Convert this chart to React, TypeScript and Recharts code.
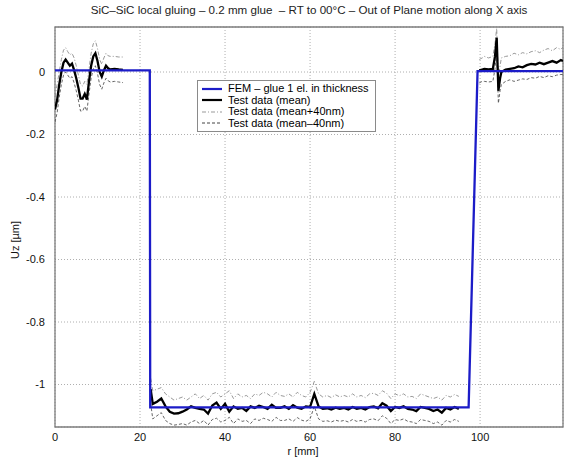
import React from "react";
import {
  LineChart,
  Line,
  XAxis,
  YAxis,
  CartesianGrid,
  Legend,
  ReferenceArea,
  Label,
} from "recharts";

// ---- FEM model (glue modelled with 1 element in thickness) ----
const femR = [0, 22.3, 22.4, 97.3, 99.4, 119.5];
const femU = [0.005, 0.005, -1.073, -1.073, 0.003, 0.003];

// ---- Test data, left segment ----
const rLeft = [0, 0.5, 1, 1.5, 2, 2.5, 3, 3.5, 4, 4.5, 5, 5.5, 6, 6.5, 7, 7.5, 8, 8.5, 9, 9.5, 10, 10.5, 11, 11.5, 12, 12.5, 13, 14, 15, 16];
const meanLeft = [-0.12, -0.09, -0.04, 0.0, 0.03, 0.04, 0.03, 0.02, 0.027, 0.006, -0.02, -0.05, -0.085, -0.085, -0.07, -0.088, -0.03, 0.02, 0.05, 0.06, 0.035, 0.0, -0.015, 0.005, 0.02, 0.012, 0.008, 0.01, 0.008, 0.007];
const upperLeft = [-0.08, -0.04, 0.0, 0.04, 0.07, 0.078, 0.065, 0.055, 0.06, 0.045, 0.02, -0.01, -0.04, -0.045, -0.03, -0.04, 0.01, 0.06, 0.09, 0.1, 0.075, 0.04, 0.025, 0.045, 0.06, 0.052, 0.05, 0.05, 0.048, 0.048];
const lowerLeft = [-0.16, -0.13, -0.08, -0.04, -0.01, 0.0, -0.01, -0.02, -0.015, -0.035, -0.06, -0.09, -0.125, -0.125, -0.11, -0.125, -0.07, -0.02, 0.01, 0.02, -0.005, -0.04, -0.055, -0.035, -0.02, -0.028, -0.032, -0.03, -0.032, -0.034];

// ---- Test data, central segment (glued zone) ----
const rMid = [22.5, 23, 24, 25, 26, 27, 28, 29, 30, 31, 32, 33, 34, 35, 36, 37, 38, 39, 40, 41, 42, 43, 44, 45, 46, 47, 48, 49, 50, 51, 52, 53, 54, 55, 56, 57, 58, 59, 60, 61, 62, 63, 64, 65, 66, 67, 68, 69, 70, 71, 72, 73, 74, 75, 76, 77, 78, 79, 80, 81, 82, 83, 84, 85, 86, 87, 88, 89, 90, 91, 92, 93, 94, 95];
const meanMid = [-1.015, -1.062, -1.055, -1.045, -1.07, -1.087, -1.093, -1.092, -1.087, -1.08, -1.07, -1.075, -1.078, -1.08, -1.093, -1.067, -1.058, -1.078, -1.062, -1.087, -1.07, -1.078, -1.075, -1.085, -1.07, -1.075, -1.068, -1.072, -1.078, -1.065, -1.075, -1.075, -1.07, -1.078, -1.066, -1.074, -1.078, -1.07, -1.072, -1.03, -1.07, -1.078, -1.076, -1.08, -1.074, -1.078, -1.075, -1.08, -1.072, -1.078, -1.075, -1.08, -1.072, -1.07, -1.076, -1.06, -1.068, -1.085, -1.072, -1.075, -1.07, -1.078, -1.08, -1.085, -1.072, -1.075, -1.078, -1.085, -1.08, -1.09, -1.075, -1.08, -1.072, -1.078];
const upperMid = [-0.98, -1.02, -1.015, -1.01, -1.03, -1.04, -1.05, -1.045, -1.04, -1.05, -1.04, -1.03, -1.045, -1.035, -1.05, -1.03, -1.025, -1.04, -1.03, -1.02, -1.045, -1.03, -1.04, -1.035, -1.045, -1.03, -1.035, -1.025, -1.03, -1.04, -1.025, -1.035, -1.038, -1.03, -1.04, -1.025, -1.035, -1.04, -1.025, -0.99, -1.03, -1.04, -1.035, -1.042, -1.033, -1.04, -1.035, -1.04, -1.03, -1.04, -1.035, -1.042, -1.03, -1.028, -1.035, -1.02, -1.028, -1.045, -1.03, -1.036, -1.03, -1.04, -1.038, -1.045, -1.03, -1.035, -1.04, -1.045, -1.04, -1.05, -1.035, -1.04, -1.032, -1.038];
const lowerMid = [-1.06, -1.11, -1.1, -1.09, -1.115, -1.125, -1.13, -1.128, -1.125, -1.13, -1.12, -1.115, -1.125, -1.115, -1.13, -1.112, -1.108, -1.12, -1.115, -1.105, -1.125, -1.11, -1.118, -1.115, -1.125, -1.11, -1.115, -1.108, -1.112, -1.118, -1.105, -1.115, -1.115, -1.11, -1.118, -1.106, -1.114, -1.118, -1.11, -1.07, -1.11, -1.118, -1.116, -1.12, -1.114, -1.118, -1.115, -1.12, -1.112, -1.118, -1.115, -1.12, -1.112, -1.11, -1.116, -1.1, -1.108, -1.125, -1.112, -1.115, -1.11, -1.118, -1.12, -1.125, -1.112, -1.115, -1.118, -1.125, -1.12, -1.13, -1.115, -1.12, -1.112, -1.118];

// ---- Test data, right segment ----
const rRight = [99.8, 100.5, 101, 102, 103, 103.5, 103.9, 104.3, 104.7, 105, 106, 107, 108, 109, 110, 111, 112, 113, 114, 115, 116, 117, 118, 119, 119.5];
const meanRight = [0.005, 0.008, 0.01, 0.008, 0.01, 0.05, 0.11, -0.06, -0.02, 0.0, 0.008, 0.01, 0.012, 0.018, 0.015, 0.022, 0.026, 0.024, 0.03, 0.025, 0.03, 0.035, 0.03, 0.038, 0.035];
const upperRight = [0.04, 0.045, 0.05, 0.045, 0.05, 0.09, 0.14, -0.02, 0.02, 0.045, 0.05, 0.052, 0.06, 0.055, 0.062, 0.058, 0.065, 0.068, 0.062, 0.07, 0.075, 0.068, 0.078, 0.072, 0.08];
const lowerRight = [-0.035, -0.03, -0.03, -0.032, -0.03, 0.01, 0.07, -0.1, -0.06, -0.04, -0.03, -0.025, -0.03, -0.026, -0.022, -0.024, -0.018, -0.02, -0.014, -0.018, -0.012, -0.015, -0.01, -0.008, -0.008];

// ---- Axes ----
const xTicks = [0, 20, 40, 60, 80, 100];
const yTicks = [-1, -0.8, -0.6, -0.4, -0.2, 0];
const xDomain: [number, number] = [0, 119.5];
const yDomain: [number, number] = [-1.136, 0.144];

const TITLE = "SiC\u2013SiC local gluing \u2013 0.2 mm glue  \u2013 RT to 00\u00b0C \u2013 Out of Plane motion along X axis";
const FONT = "'Liberation Sans', Arial, Helvetica, sans-serif";

const FEM_NAME = "FEM \u2013 glue 1 el. in thickness";
const MEAN_NAME = "Test data (mean)";
const UPPER_NAME = "Test data (mean+40nm)";
const LOWER_NAME = "Test data (mean\u201340nm)";
const legendOrder = [FEM_NAME, MEAN_NAME, UPPER_NAME, LOWER_NAME];

type Pt = { r: number; u: number | null };

function toPoints(r: number[], u: number[]): Pt[] {
  return r.map((x, i) => ({ r: x, u: u[i] }));
}

// Join measured segments with a null point so the line breaks between them
function joinSegments(...segs: Pt[][]): Pt[] {
  const out: Pt[] = [];
  segs.forEach((s, i) => {
    if (i > 0) out.push({ r: (out[out.length - 1].r + s[0].r) / 2, u: null });
    out.push(...s);
  });
  return out;
}

const femData = toPoints(femR, femU);
const meanData = joinSegments(toPoints(rLeft, meanLeft), toPoints(rMid, meanMid), toPoints(rRight, meanRight));
const upperData = joinSegments(toPoints(rLeft, upperLeft), toPoints(rMid, upperMid), toPoints(rRight, upperRight));
const lowerData = joinSegments(toPoints(rLeft, lowerLeft), toPoints(rMid, lowerMid), toPoints(rRight, lowerRight));

const BLUE = "#1c1cc8";

const legendStyles: Record<string, { color: string; width: number; dash?: string }> = {
  [FEM_NAME]: { color: BLUE, width: 2.2 },
  [MEAN_NAME]: { color: "#000", width: 2.2 },
  [UPPER_NAME]: { color: "#999", width: 1, dash: "4 2 1 2" },
  [LOWER_NAME]: { color: "#444", width: 1, dash: "3 2" },
};

function LegendBox(props: any) {
  const items = [...((props.payload || []) as any[])].sort(
    (a, b) => legendOrder.indexOf(a.value) - legendOrder.indexOf(b.value)
  );
  return (
    <div
      style={{
        background: "#fff",
        border: "1px solid #8a8a8a",
        padding: "2px 6px 2px 3px",
        fontFamily: FONT,
        fontSize: 11,
        lineHeight: "11.5px",
        color: "#000",
        display: "inline-block",
      }}
    >
      {items.map((it) => {
        const st = legendStyles[it.value] || { color: "#000", width: 1 };
        return (
          <div key={it.value} style={{ display: "flex", alignItems: "center", whiteSpace: "nowrap" }}>
            <svg width={22} height={10} style={{ marginRight: 5 }}>
              <line x1={1} y1={5} x2={21} y2={5} stroke={st.color} strokeWidth={st.width} strokeDasharray={st.dash} />
            </svg>
            <span>{it.value}</span>
          </div>
        );
      })}
    </div>
  );
}

function fmtY(v: number) {
  if (v === 0) return "0";
  if (v === -1) return "-1";
  return v.toFixed(1);
}

export default function App() {
  return (
    <div style={{ position: "absolute", left: 0, top: 0, width: 565, height: 459, background: "#fff" }}>
      <div
        style={{
          position: "absolute",
          left: 55,
          width: 508,
          top: 3,
          textAlign: "center",
          fontFamily: FONT,
          fontSize: 11.6,
          color: "#222",
          whiteSpace: "pre",
        }}
      >
        {TITLE}
      </div>
      <LineChart width={565} height={459} margin={{ top: 27, right: 2, bottom: 0, left: 0 }}>
        <CartesianGrid stroke="#9a9a9a" strokeDasharray="1 2" strokeWidth={0.8} />
        <XAxis
          type="number"
          dataKey="r"
          domain={xDomain}
          ticks={xTicks}
          allowDataOverflow
          height={32}
          axisLine={false}
          tickLine={false}
          tick={{ fontFamily: FONT, fontSize: 11, fill: "#111" }}
          tickMargin={0}
        >
          <Label
            content={(p: any) => {
              const vb = p.viewBox;
              return (
                <text x={vb.x + vb.width / 2 - 6} y={vb.y + 28} textAnchor="middle" fontFamily={FONT} fontSize={11} fill="#111">
                  r [mm]
                </text>
              );
            }}
          />
        </XAxis>
        <YAxis
          type="number"
          domain={yDomain}
          ticks={yTicks}
          allowDataOverflow
          width={55}
          axisLine={false}
          tickLine={false}
          tickFormatter={fmtY}
          tick={{ fontFamily: FONT, fontSize: 11, fill: "#111" }}
          tickMargin={4}
        >
          <Label
            content={(p: any) => {
              const vb = p.viewBox;
              const cx = vb.x + 19;
              const cy = vb.y + vb.height / 2 + 13;
              return (
                <text x={cx} y={cy} transform={`rotate(-90 ${cx} ${cy})`} textAnchor="middle" fontFamily={FONT} fontSize={11} fill="#111">
                  Uz [µm]
                </text>
              );
            }}
          />
        </YAxis>
        <ReferenceArea
          x1={xDomain[0]}
          x2={xDomain[1]}
          y1={yDomain[0]}
          y2={yDomain[1]}
          fill="none"
          stroke="#7d7d7d"
          strokeWidth={1.3}
          ifOverflow="visible"
        />
        <Line
          data={upperData}
          dataKey="u"
          name={UPPER_NAME}
          stroke="#8c8c8c"
          strokeWidth={0.9}
          strokeDasharray="4 2 1 2"
          dot={false}
          type="linear"
          isAnimationActive={false}
        />
        <Line
          data={lowerData}
          dataKey="u"
          name={LOWER_NAME}
          stroke="#555"
          strokeWidth={0.9}
          strokeDasharray="3 2"
          dot={false}
          type="linear"
          isAnimationActive={false}
        />
        <Line
          data={meanData}
          dataKey="u"
          name={MEAN_NAME}
          stroke="#000"
          strokeWidth={2.3}
          dot={false}
          type="linear"
          isAnimationActive={false}
        />
        <Line
          data={femData}
          dataKey="u"
          name={FEM_NAME}
          stroke={BLUE}
          strokeWidth={2.3}
          dot={false}
          type="linear"
          isAnimationActive={false}
        />
        <Legend
          layout="horizontal"
          verticalAlign="middle"
          align="center"
          wrapperStyle={{ position: "absolute", left: 197, top: 80, width: "auto", height: "auto" }}
          content={(p: any) => <LegendBox payload={p.payload} />}
        />
      </LineChart>
    </div>
  );
}
